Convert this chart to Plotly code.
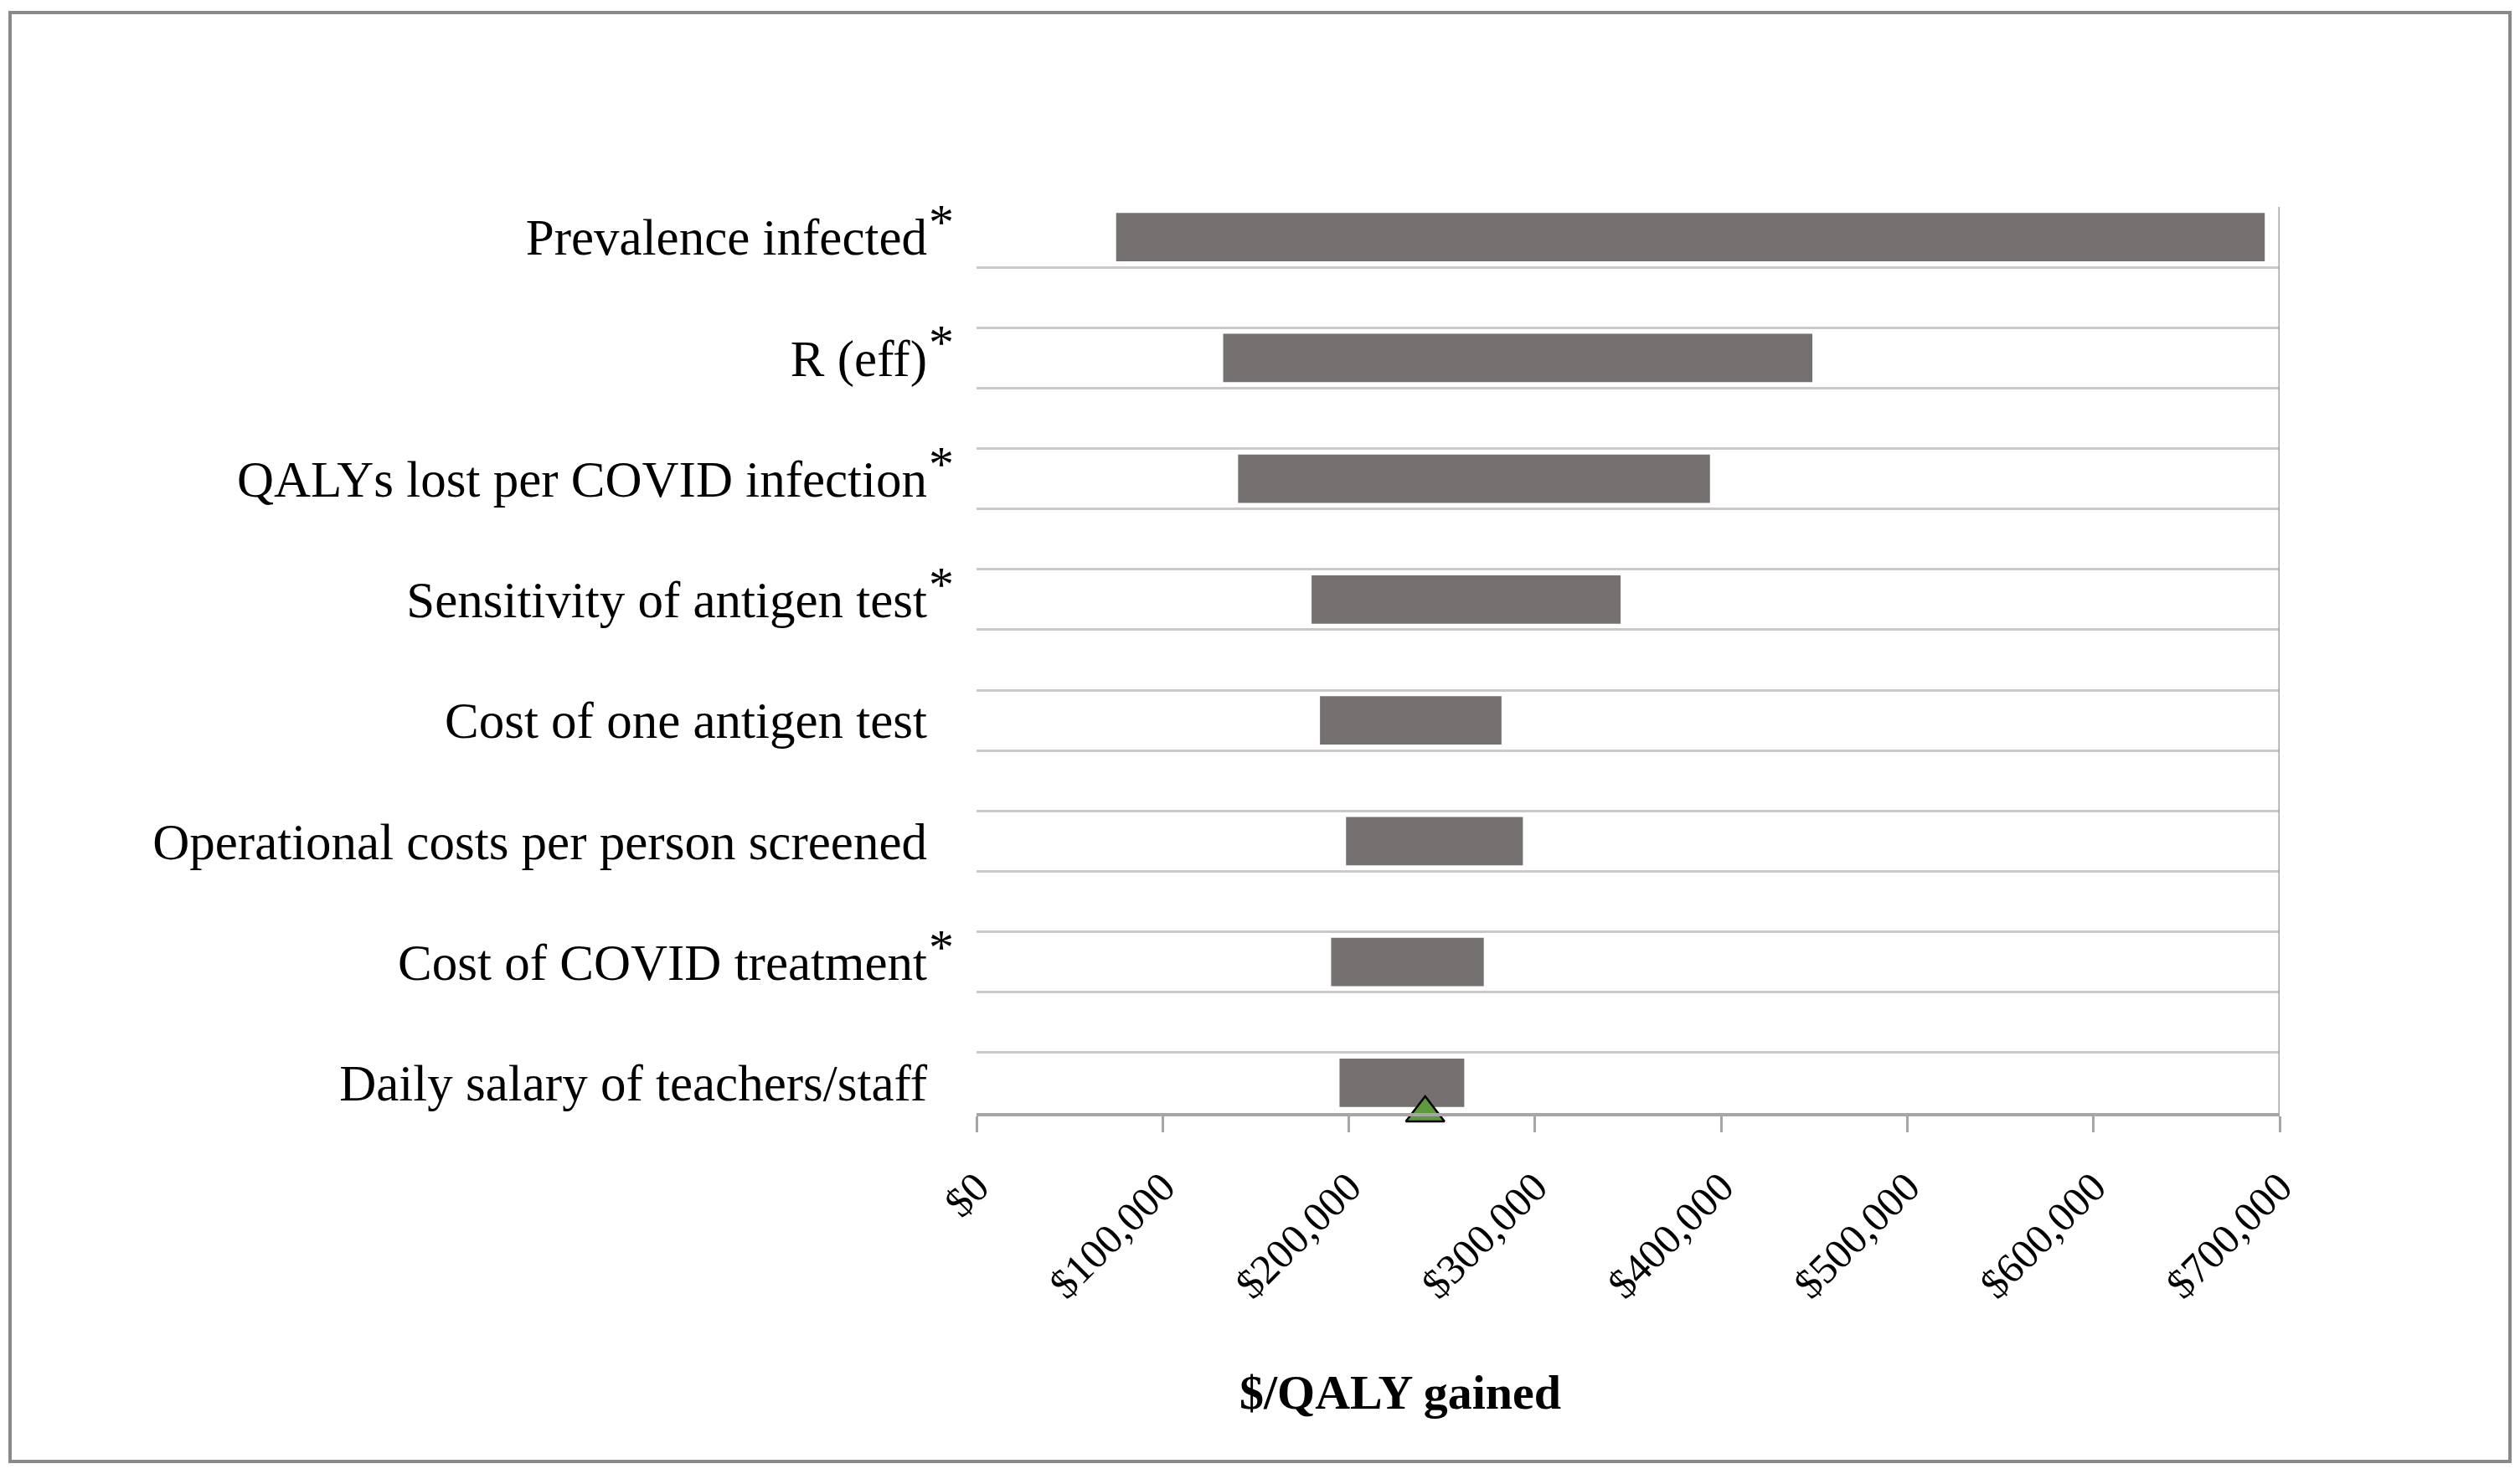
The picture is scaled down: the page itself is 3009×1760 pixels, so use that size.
import plotly.graph_objects as go

# ---- data ----
categories = [
    "Prevalence infected",
    "R (eff)",
    "QALYs lost per COVID infection",
    "Sensitivity of antigen test",
    "Cost of one antigen test",
    "Operational costs per person screened",
    "Cost of COVID treatment",
    "Daily salary of teachers/staff",
]
has_asterisk = [True, True, True, True, False, False, True, False]
low_values = [75000, 132500, 140500, 180000, 184500, 198500, 190500, 195000]
high_values = [692000, 449000, 394000, 346000, 282000, 293500, 272500, 262000]
base_case = 241000
x_tick_values = [0, 100000, 200000, 300000, 400000, 500000, 600000, 700000]
x_tick_labels = ["$0", "$100,000", "$200,000", "$300,000", "$400,000",
                 "$500,000", "$600,000", "$700,000"]

# ---- layout constants (pixels) ----
W, H = 3009, 1760
ML, MR, MT, MB = 1166, 287, 247, 431
PW, PH = W - ML - MR, H - MT - MB
FONT = "Liberation Serif"

positions = list(range(len(categories)))
widths = [h - l for l, h in zip(low_values, high_values)]

fig = go.Figure()
fig.add_trace(go.Bar(
    y=positions, x=widths, base=low_values, orientation="h",
    width=0.4, marker=dict(color="#767171", line=dict(width=0)),
    hoverinfo="skip", showlegend=False,
))
fig.add_trace(go.Scatter(
    x=[base_case], y=[len(categories) - 0.75], mode="markers",
    marker=dict(symbol="triangle-up", size=40, color="#5B9B3C",
                line=dict(color="black", width=2.5)),
    cliponaxis=False, showlegend=False, hoverinfo="skip",
))

grid_vals = [i - 0.25 for i in range(len(categories))] + \
            [i + 0.25 for i in range(len(categories) - 1)]

fig.update_layout(
    width=W, height=H,
    margin=dict(l=ML, r=MR, t=MT, b=MB, pad=0),
    paper_bgcolor="white", plot_bgcolor="white",
    font=dict(family=FONT, color="black"),
    xaxis=dict(
        range=[0, 700000], tickvals=x_tick_values, ticktext=x_tick_labels,
        tickangle=-45, tickfont=dict(size=50, family=FONT, color="black"),
        showgrid=False, zeroline=False,
        showline=True, linecolor="#A6A6A6", linewidth=4,
        ticks="outside", ticklen=19, tickwidth=3, tickcolor="#A6A6A6",
        ticklabelstandoff=16,
    ),
    yaxis=dict(
        range=[len(categories) - 0.75, -0.25], tickvals=positions,
        ticktext=categories, tickfont=dict(size=61, family=FONT, color="black"),
        showgrid=False, zeroline=False, showline=False, ticks="",
        ticklabelstandoff=58,
        minor=dict(tickvals=grid_vals, showgrid=True, gridcolor="#C9C9C9",
                   gridwidth=3, ticks=""),
    ),
)

# right edge line of plot area
fig.add_shape(type="line", xref="x", yref="paper", x0=700000, x1=700000,
              y0=0, y1=1, line=dict(color="#A6A6A6", width=3))

# outer border
bx0, bx1, by0, by1 = 12, 2997, 15, 1745
fig.add_shape(type="rect", xref="paper", yref="paper",
              x0=(bx0 - ML) / PW, x1=(bx1 - ML) / PW,
              y0=(H - MB - by1) / PH, y1=(H - MB - by0) / PH,
              line=dict(color="#898989", width=4), fillcolor="rgba(0,0,0,0)",
              layer="below")

# asterisks
for i, flag in enumerate(has_asterisk):
    if flag:
        fig.add_annotation(text="*", xref="paper", yref="y",
                           x=(1124 - ML) / PW, y=i, yshift=18,
                           showarrow=False, xanchor="center", yanchor="middle",
                           font=dict(size=60, family=FONT, color="black"))

# axis title
fig.add_annotation(text="<b>$/QALY gained</b>", xref="paper", yref="paper",
                   x=(1672 - ML) / PW, y=(H - MB - 1662) / PH,
                   showarrow=False, xanchor="center", yanchor="middle",
                   font=dict(size=58, family=FONT, color="black"))

fig.write_html("out.html", config={"displayModeBar": False},
               post_script="document.body.style.margin='0';")
